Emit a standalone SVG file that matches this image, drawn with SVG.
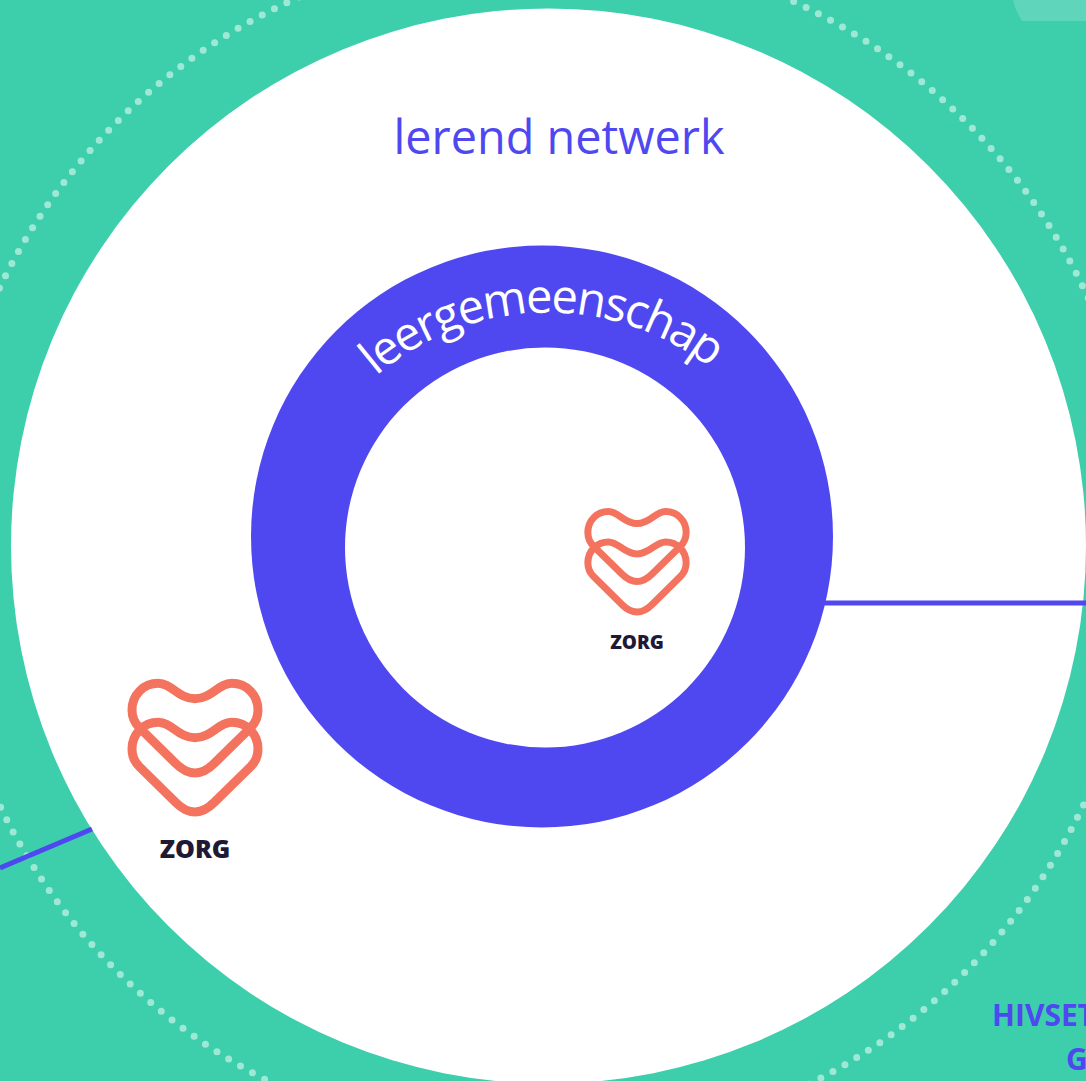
<svg xmlns="http://www.w3.org/2000/svg" width="1086" height="1081" viewBox="0 0 1086 1081">
<style>
.heart{fill:none;stroke:#f4735f;stroke-width:27}
.zorg{font-family:"Open Sans","Liberation Sans",sans-serif;font-weight:800;fill:#1e1a35;text-anchor:middle}
.blue{fill:#4f48f0;font-family:"Open Sans","Liberation Sans",sans-serif}
.link{stroke:#4f48f0;stroke-width:5;fill:none}
</style>
<defs>
<path id="h" d="M0 116C50 116 70 70 110 70C155 70 189 105 189 150C189 175 180 190 167 203L58 310C38 330 18 339 0 339C-18 339-38 330-58 310L-167 203C-180 190-189 175-189 150C-189 105-155 70-110 70C-70 70-50 116 0 116Z"/>
<path id="arc" d="M376 376A265 265 0 0 1 720 376"/>
</defs>
<rect width="1086" height="1081" fill="#3dcfac"/>
<path d="M1013 0C1015 9 1019 16 1022 21H1086V0Z" fill="#5fd6bb"/>
<circle id="dots" cx="541.5" cy="546.5" r="600.5" fill="none" stroke="#a0e8d6" stroke-width="7" stroke-linecap="round" pathLength="274" stroke-dasharray="0 1" stroke-dashoffset=".6"/>
<g id="lerend-netwerk">
<circle cx="548.5" cy="546" r="537.5" fill="#fff"/>
<text class="blue" x="393.5" y="154" font-size="47" textLength="331" lengthAdjust="spacingAndGlyphs">lerend netwerk</text>
</g>
<g id="connectors">
<path class="link" d="M820 603H1086"/>
<path class="link" d="M92 829L0 868"/>
</g>
<g id="leergemeenschap">
<circle cx="542" cy="536.5" r="291" fill="#4f48f0"/>
<circle cx="545" cy="547.5" r="200" fill="#fff"/>
<text font-family="'Open Sans','Liberation Sans',sans-serif" font-weight="400" font-size="47" fill="#fff"><textPath href="#arc" textLength="362">leergemeenschap</textPath></text>
</g>
<g id="zorg-inner">
<use href="#h" class="heart" transform="translate(637 493.4) scale(.26)"/>
<use href="#h" class="heart" transform="translate(637 523.8) scale(.26)"/>
<text class="zorg" x="637" y="649" font-size="19">ZORG</text>
</g>
<g id="zorg-outer">
<use href="#h" class="heart" transform="translate(195 660) scale(.3333)"/>
<use href="#h" class="heart" transform="translate(195 699) scale(.3333)"/>
<text class="zorg" x="195" y="858" font-size="25">ZORG</text>
</g>
<g id="hivset">
<text class="blue" x="992" y="1026" font-size="30" font-weight="700">HIVSET</text>
<text class="blue" x="1066" y="1070" font-size="30" font-weight="700">G</text>
</g>
</svg>
